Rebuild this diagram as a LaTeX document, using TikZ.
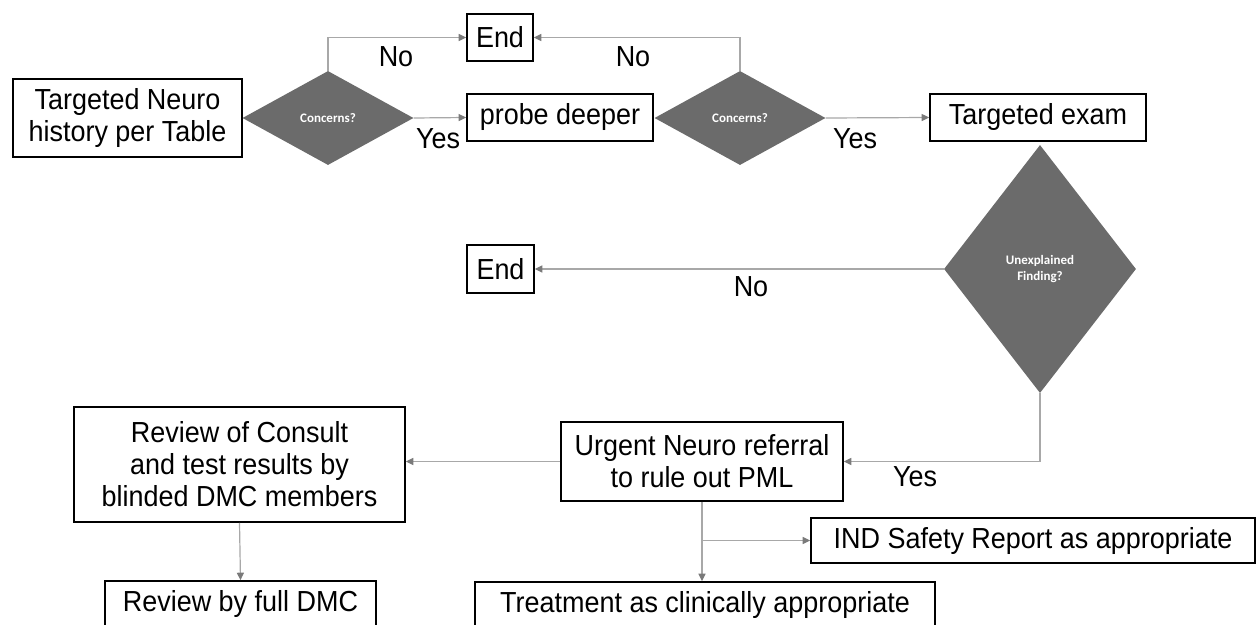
\documentclass[tikz,border=0pt]{standalone}
\usepackage{fontspec}
\setmainfont{Liberation Sans}[FakeStretch=0.93]
\newfontfamily\dmdfont{Carlito}
\usetikzlibrary{shapes.geometric,arrows.meta}
\definecolor{dmdgray}{HTML}{6B6B6B}
\definecolor{linkgray}{HTML}{A8A8A8}
\definecolor{tipgray}{HTML}{7A7A7A}
\tikzset{
  box/.style={draw, line width=1.6pt, align=center, inner sep=0pt, font=\fontsize{29}{32}\selectfont},
  dmd/.style={diamond, fill=dmdgray, draw=none, inner sep=0pt, align=center, text=white, font=\dmdfont\bfseries\fontsize{13}{16}\selectfont},
  link/.style={draw=linkgray, line width=1.2pt, -{Triangle[length=7.5pt,width=7pt,color=tipgray]}},
  lbl/.style={inner sep=0pt, font=\fontsize{29}{32}\selectfont}
}
\begin{document}
\begin{tikzpicture}[x=1pt, y=-1pt]
\useasboundingbox (0,0) rectangle (1256,624);
\node[box, minimum width=229pt, minimum height=78pt] (hist) at (127.5,118) {Targeted Neuro\\history per Table};
\node[dmd, minimum width=171pt, minimum height=94pt] (d1) at (328,118) {Concerns?};
\node[box, minimum width=66pt, minimum height=47pt] (end1) at (500,37.5) {End};
\node[box, minimum width=186pt, minimum height=47pt] (probe) at (560,117.5) {probe deeper};
\node[dmd, minimum width=171pt, minimum height=94pt] (d2) at (740,118) {Concerns?};
\node[box, minimum width=216pt, minimum height=47pt] (exam) at (1038,117.5) {Targeted exam};
\node[dmd, minimum width=192pt, minimum height=248pt] (d3) at (1040,269) {Unexplained\\Finding?};
\node[box, minimum width=67pt, minimum height=48pt] (end2) at (500.5,269) {End};
\node[box, minimum width=282pt, minimum height=79pt] (urgent) at (702,461.5) {Urgent Neuro referral\\to rule out PML};
\node[box, minimum width=331pt, minimum height=115pt] (review) at (239.5,464.5) {Review of Consult\\and test results by\\blinded DMC members};
\node[box, minimum width=271pt, minimum height=46pt] (full) at (240.5,604) {Review by full DMC};
\node[box, minimum width=444pt, minimum height=45pt] (ind) at (1033,540.5) {IND Safety Report as appropriate};
\node[box, minimum width=460pt, minimum height=46pt] (treat) at (705,605) {Treatment as clinically appropriate};

\node[lbl] (no1) at (396,57) {No};
\node[lbl] (no2) at (633,57) {No};
\node[lbl] (yes1) at (438,139) {Yes};
\node[lbl] (yes2) at (855,139) {Yes};
\node[lbl] (no3) at (751,287) {No};
\node[lbl] (yes3) at (915,477) {Yes};

\draw[link] (d1.north) |- (end1.west);
\draw[link] (d2.north) |- (end1.east);
\draw[link] (d1.east) -- (probe.west);
\draw[link] (d2.east) -- (exam.west);
\draw[link] (d3.west) -- (end2.east);
\draw[link] (d3.south) |- (urgent.east);
\draw[link] (urgent.west) -- (urgent.west -| review.east);
\draw[link] (review.south) -- (full.north);
\coordinate (split) at (urgent.south |- ind.west);
\draw[link] (urgent.south) -- (urgent.south |- treat.north);
\draw[link] (split) -- (ind.west);
\end{tikzpicture}
\end{document}
